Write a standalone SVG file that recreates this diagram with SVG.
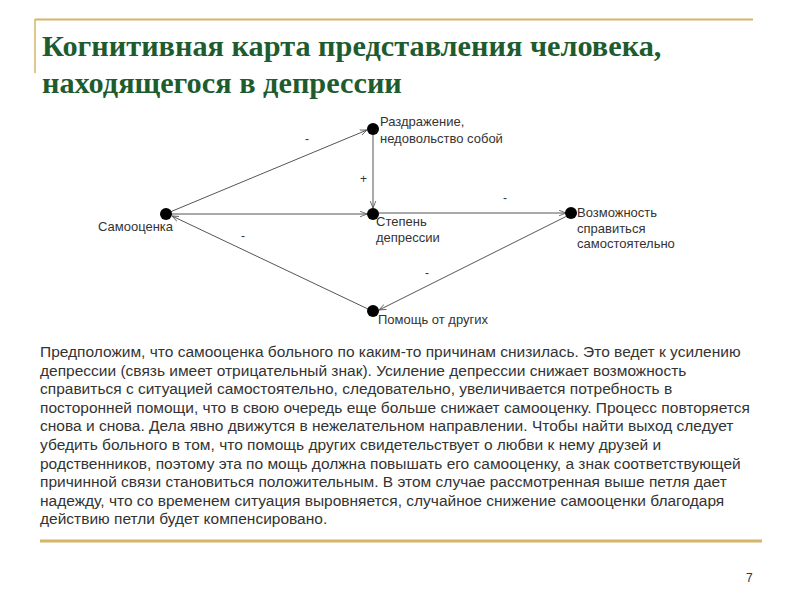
<svg xmlns="http://www.w3.org/2000/svg" width="800" height="600" viewBox="0 0 800 600">
<style>
.title{font-family:"Liberation Serif",serif;font-size:30.3px;font-weight:bold;fill:#1e5c30}
.lbl{font-family:"Liberation Sans",Arial,sans-serif;font-size:13px;fill:#333}
.sign{font-family:"Liberation Sans",Arial,sans-serif;font-size:12px;fill:#333}
.body{font-family:"Liberation Sans",Arial,sans-serif;font-size:15.5px;fill:#333}
.edge{stroke:#555;stroke-width:1;fill:none}
.dot{fill:#000}
.gold{stroke:#d4b56a;fill:none}
</style>
<defs>
<marker id="arr" viewBox="0 0 10 10" refX="10" refY="5" markerWidth="7" markerHeight="7" orient="auto" markerUnits="userSpaceOnUse">
<path d="M0,1 L10,5 L0,9" fill="none" stroke="#555" stroke-width="1.2"/>
</marker>
</defs>
<rect width="800" height="600" fill="#fff"/>
<line class="gold" x1="35" y1="19.5" x2="753" y2="19.5" stroke-width="2"/>
<line class="gold" x1="35" y1="19" x2="35" y2="73" stroke-width="1.5"/>
<line class="gold" x1="40" y1="541" x2="762" y2="541" stroke-width="3"/>
<text class="title" x="42" y="56">Когнитивная карта представления человека,</text>
<text class="title" x="42" y="93">находящегося в депрессии</text>
<g id="connectors">
<line class="edge" x1="170" y1="212" x2="367" y2="130" marker-end="url(#arr)"/>
<line class="edge" x1="170" y1="214" x2="367" y2="214" marker-end="url(#arr)"/>
<line class="edge" x1="373" y1="134" x2="373" y2="208" marker-end="url(#arr)"/>
<line class="edge" x1="378" y1="213" x2="566" y2="213" marker-end="url(#arr)"/>
<line class="edge" x1="567" y1="216" x2="379" y2="310" marker-end="url(#arr)"/>
<line class="edge" x1="368" y1="309" x2="172" y2="216" marker-end="url(#arr)"/>
<text class="sign" x="305" y="143">-</text>
<text class="sign" x="360" y="183">+</text>
<text class="sign" x="503" y="202">-</text>
<text class="sign" x="425" y="277">-</text>
<text class="sign" x="241" y="240">-</text>
</g>
<g id="n-selfesteem">
<circle class="dot" cx="166" cy="214" r="6"/>
<text class="lbl" x="98" y="231">Самооценка</text>
</g>
<g id="n-irritation">
<circle class="dot" cx="373" cy="129" r="6"/>
<text class="lbl" x="380" y="126">Раздражение,</text>
<text class="lbl" x="380" y="143">недовольство собой</text>
</g>
<g id="n-depression">
<circle class="dot" cx="373" cy="214" r="6"/>
<text class="lbl" x="376" y="226">Степень</text>
<text class="lbl" x="376" y="242">депрессии</text>
</g>
<g id="n-ability">
<circle class="dot" cx="571" cy="213" r="6"/>
<text class="lbl" x="577" y="217">Возможность</text>
<text class="lbl" x="577" y="233">справиться</text>
<text class="lbl" x="577" y="248">самостоятельно</text>
</g>
<g id="n-help">
<circle class="dot" cx="373" cy="311" r="6"/>
<text class="lbl" x="378" y="324">Помощь от других</text>
</g>
<g id="paragraph">
<text class="body" x="40" y="357">Предположим, что самооценка больного по каким-то причинам снизилась. Это ведет к усилению</text>
<text class="body" x="40" y="375.6">депрессии (связь имеет отрицательный знак). Усиление депрессии снижает возможность</text>
<text class="body" x="40" y="394.2">справиться с ситуацией самостоятельно, следовательно, увеличивается потребность в</text>
<text class="body" x="40" y="412.8">посторонней помощи, что в свою очередь еще больше снижает самооценку. Процесс повторяется</text>
<text class="body" x="40" y="431.4">снова и снова. Дела явно движутся в нежелательном направлении. Чтобы найти выход следует</text>
<text class="body" x="40" y="450">убедить больного в том, что помощь других свидетельствует о любви к нему друзей и</text>
<text class="body" x="40" y="468.6">родственников, поэтому эта по мощь должна повышать его самооценку, а знак соответствующей</text>
<text class="body" x="40" y="487.2">причинной связи становиться положительным. В этом случае рассмотренная выше петля дает</text>
<text class="body" x="40" y="505.8">надежду, что со временем ситуация выровняется, случайное снижение самооценки благодаря</text>
<text class="body" x="40" y="524.4">действию петли будет компенсировано.</text>
</g>
<text class="lbl" x="746" y="582" style="font-size:12px">7</text>
</svg>
